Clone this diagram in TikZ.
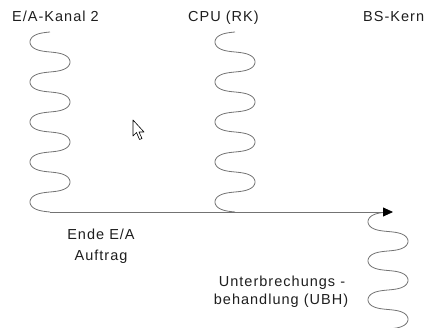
\documentclass[tikz,border=0pt]{standalone}
\usepackage{fontspec}
\setmainfont{Liberation Sans}[LetterSpace=7]
\usetikzlibrary{arrows.meta}
\definecolor{wavegray}{RGB}{115,115,115}
\definecolor{txt}{RGB}{30,30,30}
\begin{document}
\begin{tikzpicture}[x=1pt,y=-1pt,
  wave/.style={draw=wavegray, line width=0.8pt},
  lbl/.style={font=\fontsize{14.5}{17}\selectfont, inner sep=0pt, text=txt},
  flow/.style={draw=wavegray, line width=0.8pt, -{Triangle[length=10pt,width=9pt,color=black]}}]
\useasboundingbox (0,0) rectangle (428,328);
\clip (0,0) rectangle (428,328);
% labels
\node[lbl, anchor=base west] (ea) at (12,22) {E/A-Kanal 2};
\node[lbl, anchor=base west] (cpu) at (188,22) {CPU (RK)};
\node[lbl, anchor=base west] (bs) at (363,22) {BS-Kern};
\node[lbl, anchor=base] (ende1) at (101,240) {Ende E/A};
\node[lbl, anchor=base] (ende2) at (101,261) {Auftrag};
\node[lbl, anchor=base] (ubh1) at (282,287) {Unterbrechungs -};
\node[lbl, anchor=base] (ubh2) at (281,305) {behandlung (UBH)};
% waves (rounded loops)
\coordinate (eaend) at (50,212);
\coordinate (tip) at (393,212);
\draw[wave] plot[domain=0:1620, samples=325, smooth] ({50-20*sin(\x)},{32+\x/9-2.2*sin(2*\x)});
\draw[wave] plot[domain=0:1620, samples=325, smooth] ({235-20*sin(\x)},{32+\x/9-2.2*sin(2*\x)});
\draw[wave] plot[domain=0:1150, samples=231, smooth] ({388-20*sin(\x)},{212+\x*0.108333-2.2*sin(2*\x)});
% flow line
\draw[flow] (eaend) -- (tip);
% mouse cursor
\draw[fill=white, line width=0.6pt, line join=round] (133,120) -- ++(0,16) -- ++(3.5,-3.5) -- ++(3,7) -- ++(2.5,-1) -- ++(-3,-6.5) -- ++(5,0) -- cycle;
\end{tikzpicture}
\end{document}
